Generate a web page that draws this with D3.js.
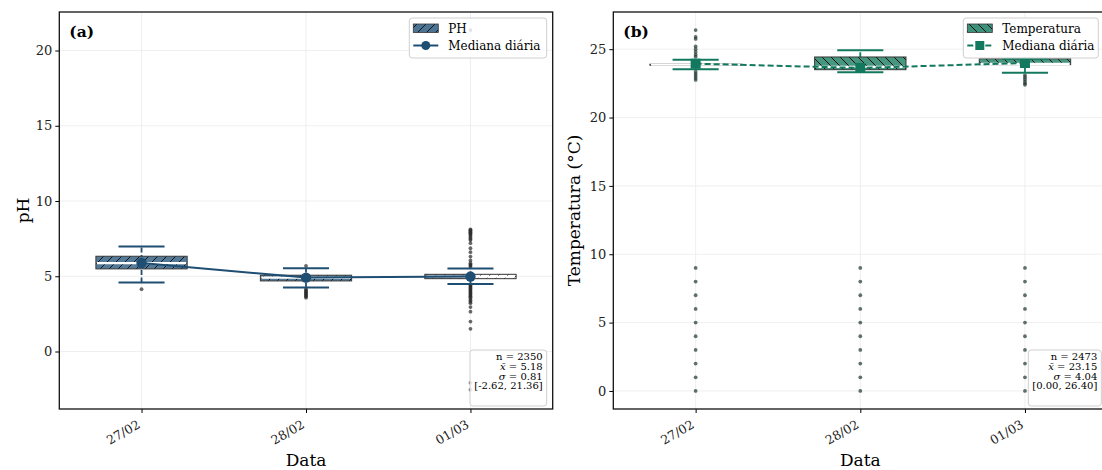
<!DOCTYPE html>
<html><head><meta charset="utf-8">
<script src="https://cdn.jsdelivr.net/npm/d3@7"></script>
<style>body{margin:0;background:#fff}svg{display:block}text{font-family:"DejaVu Serif",serif}</style>
</head><body>
<script>
// ---------- data ----------
const dates = ["27/02", "28/02", "01/03"];

// pH (panel a)
const phQ1   = [5.49, 4.69, 4.84];
const phQ3   = [6.33, 5.07, 5.13];
const phMed  = [5.87, 4.91, 4.98];
const phLow  = [4.58, 4.25, 4.49];
const phHigh = [6.97, 5.53, 5.51];
const phDaily = [5.88, 4.91, 4.98];
const phOut = [
  [4.14],
  [5.69, 4.15, 4.08, 4.0, 3.93, 3.86, 3.79, 3.72, 3.65, 3.58],
  [21.36, 8.12, 8.06, 7.99, 7.92, 7.85, 7.78, 7.7, 7.6, 7.48, 7.41, 7.2, 6.86, 6.6, 6.31, 6.05, 5.87, 5.78, 5.7, 5.62,
   4.45, 4.38, 4.31, 4.24, 4.17, 4.1, 4.03, 3.96, 3.89, 3.82, 3.75, 3.68, 3.6, 3.5, 3.4, 3.3, 3.21, 2.95, 2.65, 1.99, 1.51, -2.08, -2.54]
];
const phTicks = [0, 5, 10, 15, 20];
const phStats = ["n = 2350", "x̄ = 5.18", "σ = 0.81", "[-2.62, 21.36]"];

// Temperatura (panel b)
const tQ1   = [23.83, 23.50, 23.87];
const tQ3   = [23.90, 24.43, 24.30];
const tMed  = [23.86, 23.70, 23.92];
const tLow  = [23.53, 23.31, 23.28];
const tHigh = [24.23, 24.92, 24.30];
const tDaily = [23.94, 23.63, 23.99];
const tOut = [
  [26.40, 25.9, 25.75, 25.2, 25.0, 24.8, 24.6, 24.45, 23.35, 23.2, 23.05, 22.9, 22.75, 9, 8, 7, 6, 5, 4, 3, 2, 1, 0],
  [9, 8, 7, 6, 5, 4, 3, 2, 1, 0],
  [23.1, 22.95, 22.8, 22.65, 22.5, 22.4, 9, 8, 7, 6, 5, 4, 3, 2, 1, 0]
];
const tTicks = [0, 5, 10, 15, 20, 25];
const tStats = ["n = 2473", "x̄ = 23.15", "σ = 4.04", "[0.00, 26.40]"];

// ---------- drawing ----------
const W = 1102, H = 470;
const svg = d3.select("body").append("svg").attr("width", W).attr("height", H);
svg.append("rect").attr("width", W).attr("height", H).attr("fill", "#fff");

const defs = svg.append("defs");
function hatch(id, dir) {
  const p = defs.append("pattern").attr("id", id).attr("patternUnits", "userSpaceOnUse")
    .attr("width", 9).attr("height", 9);
  const d = dir > 0 ? "M0,9 L9,0 M-2,2 L2,-2 M7,11 L11,7" : "M0,0 L9,9 M-2,7 L2,11 M7,-2 L11,2";
  p.append("path").attr("d", d).attr("stroke", "#111").attr("stroke-width", 1);
}
hatch("hA", 1);
hatch("hB", -1);

function panel(cfg) {
  const g = svg.append("g");
  const x = d3.scaleLinear().domain([-0.5, 2.5]).range([cfg.left, cfg.right]);
  const y = d3.scaleLinear().domain(cfg.yDomain).range([cfg.bottom, cfg.top]);
  const bw = 0.555, cw = 0.28;

  // grid
  g.append("g").selectAll("line").data(cfg.yTicks).join("line")
    .attr("x1", cfg.left).attr("x2", cfg.right).attr("y1", d => y(d)).attr("y2", d => y(d))
    .attr("stroke", "#ebebeb").attr("stroke-width", 0.8);
  g.append("g").selectAll("line").data([0, 1, 2]).join("line")
    .attr("x1", d => x(d)).attr("x2", d => x(d)).attr("y1", cfg.top).attr("y2", cfg.bottom)
    .attr("stroke", "#ebebeb").attr("stroke-width", 0.8);

  const idx = [0, 1, 2];
  // whiskers (dashed)
  g.append("g").selectAll("line").data(idx).join("line")
    .attr("x1", i => x(i)).attr("x2", i => x(i))
    .attr("y1", i => y(Math.min(cfg.low[i], cfg.q1[i]))).attr("y2", i => y(Math.max(cfg.high[i], cfg.q3[i])))
    .attr("stroke", cfg.line).attr("stroke-width", 1.8).attr("stroke-dasharray", "5,2.5");

  // boxes
  const boxes = g.append("g");
  idx.forEach(i => {
    const bx = x(i - bw / 2), bwp = x(i + bw / 2) - x(i - bw / 2);
    const by = y(cfg.q3[i]), bh = Math.max(1, y(cfg.q1[i]) - y(cfg.q3[i]));
    boxes.append("rect").attr("x", bx).attr("y", by).attr("width", bwp).attr("height", bh)
      .attr("fill", cfg.fill).attr("fill-opacity", 0.95);
    if (cfg.halfWhite && cfg.halfWhite[i]) {
      boxes.append("rect").attr("x", x(i)).attr("y", by).attr("width", bwp / 2).attr("height", bh)
        .attr("fill", "#fff");
    }
    boxes.append("rect").attr("x", bx).attr("y", by).attr("width", bwp).attr("height", bh)
      .attr("fill", "url(#" + cfg.hatch + ")");
    boxes.append("rect").attr("x", bx).attr("y", by).attr("width", bwp).attr("height", bh)
      .attr("fill", "none").attr("stroke", "#3a3a3a").attr("stroke-width", 1);
    boxes.append("line").attr("x1", bx + 1).attr("x2", bx + bwp - 1)
      .attr("y1", y(cfg.med[i])).attr("y2", y(cfg.med[i]))
      .attr("stroke", "#fff").attr("stroke-width", 2.2);
  });

  // outliers
  const pts = [];
  idx.forEach(i => cfg.out[i].forEach(v => pts.push([i, v])));
  g.append("g").selectAll("circle").data(pts).join("circle")
    .attr("cx", d => x(d[0])).attr("cy", d => y(d[1])).attr("r", 1.9)
    .attr("fill", cfg.outColor).attr("fill-opacity", 0.7);

  // caps
  const caps = [];
  idx.forEach(i => { caps.push([i, cfg.low[i]]); caps.push([i, cfg.high[i]]); });
  g.append("g").selectAll("line").data(caps).join("line")
    .attr("x1", d => x(d[0] - cw / 2)).attr("x2", d => x(d[0] + cw / 2))
    .attr("y1", d => y(d[1])).attr("y2", d => y(d[1]))
    .attr("stroke", cfg.line).attr("stroke-width", 2);

  // daily median line
  const ln = d3.line().x((d, i) => x(i)).y(d => y(d));
  g.append("path").attr("d", ln(cfg.daily)).attr("fill", "none")
    .attr("stroke", cfg.line).attr("stroke-width", 2)
    .attr("stroke-dasharray", cfg.dashed ? "6,3" : null);
  if (cfg.square) {
    g.append("g").selectAll("rect").data(cfg.daily).join("rect")
      .attr("x", (d, i) => x(i) - 5).attr("y", d => y(d) - 5).attr("width", 10).attr("height", 10)
      .attr("fill", cfg.line);
  } else {
    g.append("g").selectAll("circle").data(cfg.daily).join("circle")
      .attr("cx", (d, i) => x(i)).attr("cy", d => y(d)).attr("r", 5.2).attr("fill", cfg.line);
  }

  // axes
  const ax = g.append("g").attr("transform", `translate(0,${cfg.bottom})`)
    .call(d3.axisBottom(x).tickValues([0, 1, 2]).tickFormat(i => dates[i]).tickSize(4).tickPadding(3));
  ax.select(".domain").remove();
  ax.selectAll("text").attr("font-size", 12.5).attr("font-family", "DejaVu Serif")
    .attr("text-anchor", "end").attr("x", 0).attr("y", 0).attr("dy", 0)
    .attr("transform", "translate(-1,18) rotate(-30)").attr("fill", "#222");
  const ay = g.append("g").attr("transform", `translate(${cfg.left},0)`)
    .call(d3.axisLeft(y).tickValues(cfg.yTicks).tickSize(4).tickPadding(3));
  ay.select(".domain").remove();
  ay.selectAll("text").attr("font-size", 13).attr("font-family", "DejaVu Serif").attr("fill", "#222");

  // frame
  g.append("rect").attr("x", cfg.left).attr("y", cfg.top).attr("width", cfg.right - cfg.left)
    .attr("height", cfg.bottom - cfg.top).attr("fill", "none").attr("stroke", "#111").attr("stroke-width", 1.3);

  // labels
  g.append("text").attr("x", cfg.left + 10).attr("y", cfg.top + 25).attr("font-weight", "bold")
    .attr("font-size", 15.5).text(cfg.tag);
  g.append("text").attr("x", x(1)).attr("y", 466)
    .attr("text-anchor", "middle").attr("font-size", 17).text("Data");
  g.append("text").attr("transform", `translate(${cfg.ylabX},${(cfg.top + cfg.bottom) / 2}) rotate(-90)`)
    .attr("text-anchor", "middle").attr("font-size", 17).text(cfg.ylab);

  // legend
  const lg = g.append("g");
  const legH = 40;
  lg.append("rect").attr("x", cfg.legX).attr("y", 18).attr("width", cfg.legW).attr("height", legH)
    .attr("rx", 3).attr("fill", "#fff").attr("fill-opacity", 0.82).attr("stroke", "#cfcfcf");
  const px = cfg.legX + 4;
  lg.append("rect").attr("x", px).attr("y", 24).attr("width", 25).attr("height", 8.5).attr("fill", cfg.fill);
  lg.append("rect").attr("x", px).attr("y", 24).attr("width", 25).attr("height", 8.5).attr("fill", "url(#" + cfg.hatch + ")")
    .attr("stroke", "#3a3a3a").attr("stroke-width", 0.8);
  lg.append("text").attr("x", px + 35).attr("y", 32.5).attr("font-size", 12).text(cfg.legName);
  const ly = 45.5;
  lg.append("line").attr("x1", px).attr("x2", px + 25).attr("y1", ly).attr("y2", ly)
    .attr("stroke", cfg.line).attr("stroke-width", 2).attr("stroke-dasharray", cfg.dashed ? "6,3" : null);
  if (cfg.square) lg.append("rect").attr("x", px + 8).attr("y", ly - 4.5).attr("width", 9).attr("height", 9).attr("fill", cfg.line);
  else lg.append("circle").attr("cx", px + 12.5).attr("cy", ly).attr("r", 4.5).attr("fill", cfg.line);
  lg.append("text").attr("x", px + 35).attr("y", ly + 4.5).attr("font-size", 12).text("Mediana diária");

  // stats box
  const sb = g.append("g");
  const sbR = cfg.right - 6;
  sb.append("rect").attr("x", cfg.statX).attr("y", 350).attr("width", sbR - cfg.statX).attr("height", 56)
    .attr("rx", 3).attr("fill", "#fff").attr("fill-opacity", 0.85).attr("stroke", "#cfcfcf");
  cfg.stats.forEach((s, k) => {
    const t = sb.append("text").attr("x", sbR - 4).attr("y", 360 + k * 9.8).attr("text-anchor", "end")
      .attr("font-size", 10);
    if (k === 1 || k === 2) {
      const parts = s.split(" = ");
      t.append("tspan").attr("font-style", "italic").text(parts[0]);
      t.append("tspan").text(" = " + parts[1]);
    } else t.text(s);
  });
}

panel({
  left: 59.3, right: 552.7, top: 12, bottom: 409, yDomain: [-3.82, 22.56], yTicks: phTicks,
  q1: phQ1, q3: phQ3, med: phMed, low: phLow, high: phHigh, daily: phDaily, out: phOut,
  fill: "#4b7393", line: "#1f4e73", hatch: "hA", halfWhite: [false, false, true], outColor: "#2a2a2a",
  square: false, dashed: false, tag: "(a)", ylab: "pH", ylabX: 29,
  legX: 409.3, legW: 137.4, legName: "PH", statX: 470, stats: phStats
});
panel({
  left: 613.3, right: 1107.3, top: 12, bottom: 409, yDomain: [-1.32, 27.72], yTicks: tTicks,
  q1: tQ1, q3: tQ3, med: tMed, low: tLow, high: tHigh, daily: tDaily, out: tOut,
  fill: "#3d9079", line: "#12795f", hatch: "hB", halfWhite: null, outColor: "#1e3530",
  square: true, dashed: true, tag: "(b)", ylab: "Temperatura (°C)", ylabX: 580,
  legX: 963.3, legW: 135, legName: "Temperatura", statX: 1028.3, stats: tStats
});
</script>
</body></html>
